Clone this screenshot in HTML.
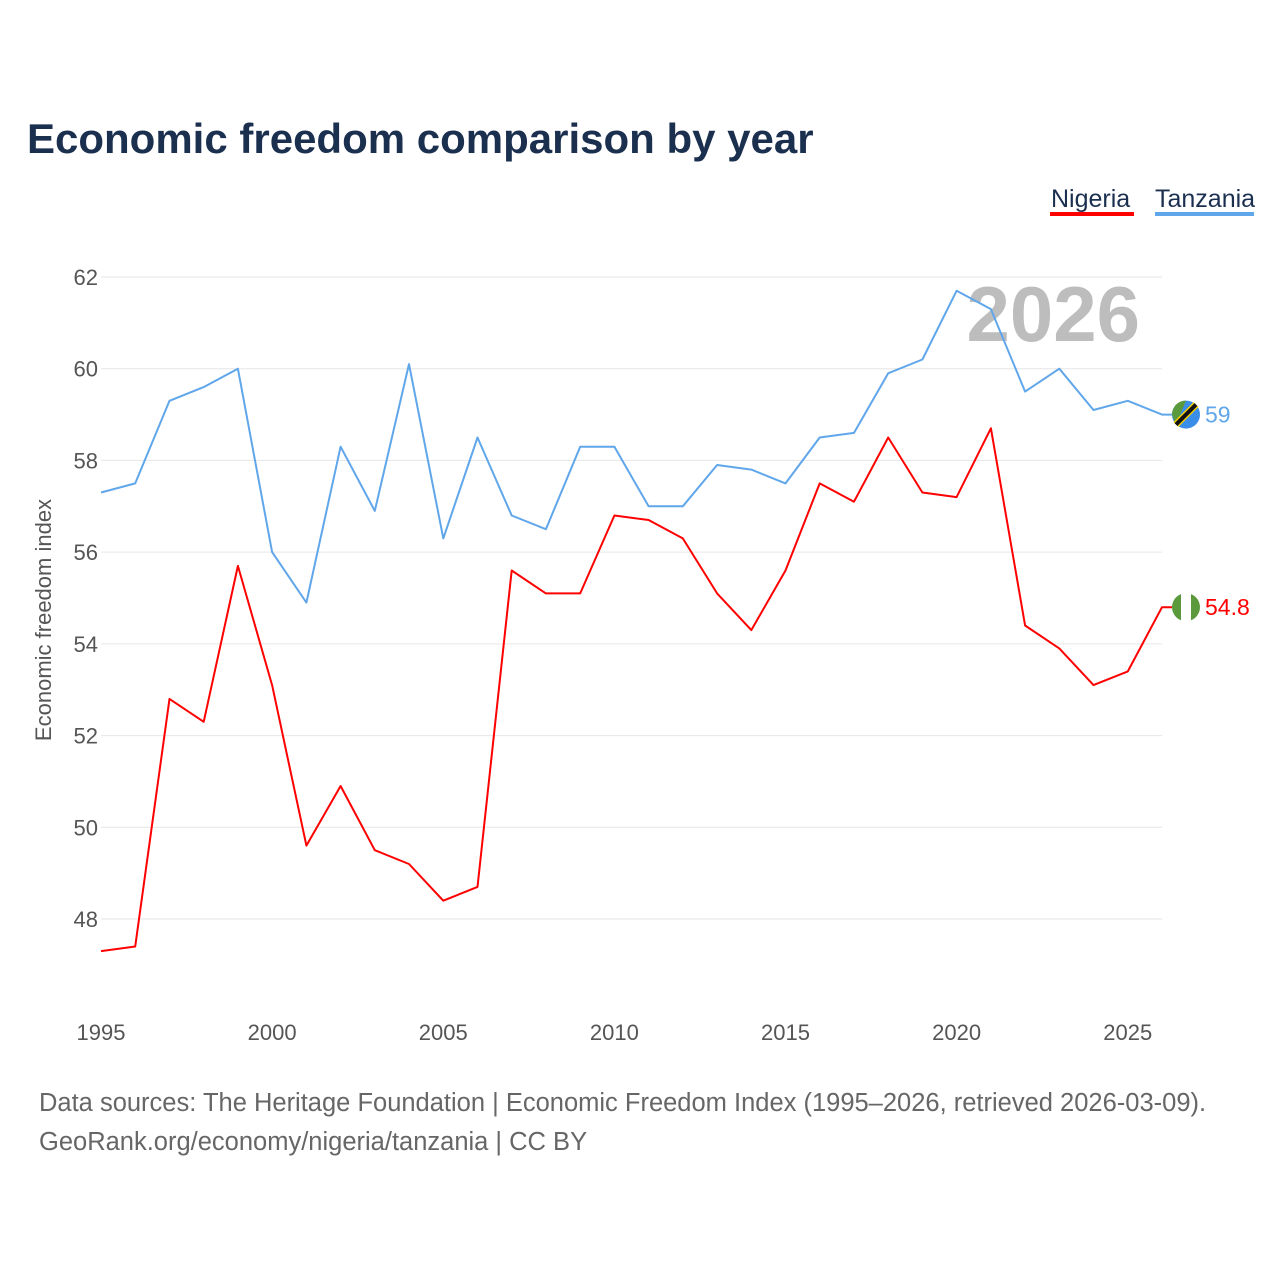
<!DOCTYPE html>
<html><head><meta charset="utf-8">
<style>
body{margin:0;background:#fff;font-family:"Liberation Sans",sans-serif;}
#wrap{position:relative;width:1280px;height:1280px;overflow:hidden;}
</style></head>
<body>
<div id="wrap">
<svg id="chart" width="1280" height="1280" xmlns="http://www.w3.org/2000/svg">
<defs><clipPath id="ngclip"><circle cx="1186" cy="0" r="14" id="ngc"/></clipPath></defs>
<text x="27" y="153" font-size="42" font-weight="bold" fill="#1b2f4f">Economic freedom comparison by year</text>
<g>
<text x="1051" y="207" font-size="25" fill="#1b2f4f">Nigeria</text>
<rect x="1050" y="212" width="84" height="4" fill="#ff0000"/>
</g>
<g>
<text x="1155" y="207" font-size="25" fill="#1b2f4f">Tanzania</text>
<rect x="1155" y="212" width="99" height="4" fill="#60a6ea"/>
</g>
<text x="1140" y="341" font-size="78" font-weight="bold" fill="#bdbdbd" text-anchor="end">2026</text>
<g id="grid"></g>
<g id="yticks"></g>
<g id="xticks"></g>
<text transform="translate(51,620) rotate(-90)" font-size="22" fill="#555" text-anchor="middle">Economic freedom index</text>
<g id="series"></g>
<text x="39" y="1111" font-size="25.5" fill="#666">Data sources: The Heritage Foundation | Economic Freedom Index (1995–2026, retrieved 2026-03-09).</text>
<text x="39" y="1150" font-size="25.5" fill="#666">GeoRank.org/economy/nigeria/tanzania | CC BY</text>
</svg>
</div>
<script>
const years=[1995,1996,1997,1998,1999,2000,2001,2002,2003,2004,2005,2006,2007,2008,2009,2010,2011,2012,2013,2014,2015,2016,2017,2018,2019,2020,2021,2022,2023,2024,2025,2026];
const tanzania=[57.3,57.5,59.3,59.6,60.0,56.0,54.9,58.3,56.9,60.1,56.3,58.5,56.8,56.5,58.3,58.3,57.0,57.0,57.9,57.8,57.5,58.5,58.6,59.9,60.2,61.7,61.3,59.5,60.0,59.1,59.3,59.0];
const nigeria=[47.3,47.4,52.8,52.3,55.7,53.1,49.6,50.9,49.5,49.2,48.4,48.7,55.6,55.1,55.1,56.8,56.7,56.3,55.1,54.3,55.6,57.5,57.1,58.5,57.3,57.2,58.7,54.4,53.9,53.1,53.4,54.8];
const yTicks=[48,50,52,54,56,58,60,62];
const xTicks=[1995,2000,2005,2010,2015,2020,2025];
const NS="http://www.w3.org/2000/svg";
function xs(v){return 101+(v-1995)*(1162-101)/31;}
function ys(v){return 277+(62-v)*(919-277)/14;}
function mk(tag,attrs,parent){const e=document.createElementNS(NS,tag);for(const k in attrs)e.setAttribute(k,attrs[k]);parent.appendChild(e);return e;}
const grid=document.getElementById('grid'),yt=document.getElementById('yticks'),xt=document.getElementById('xticks'),ser=document.getElementById('series');
yTicks.forEach(t=>{
  const l=mk('line',{x1:101,x2:1162,y1:ys(t),y2:ys(t),stroke:'#e6e6e6','stroke-width':1},grid);
  
  
  const tx=mk('text',{x:98,y:ys(t)+8,'font-size':22,fill:'#555','text-anchor':'end'},yt);
  tx.textContent=t;
  
  
});
xTicks.forEach(t=>{
  const tx=mk('text',{x:xs(t),y:1040,'font-size':22,fill:'#555','text-anchor':'middle'},xt);
  tx.textContent=t;
  
  
});
function line(vals,color,name){
  let d=vals.map((v,i)=>(i?'L':'M')+xs(years[i]).toFixed(1)+','+ys(v).toFixed(1)).join('');
  const lv=vals[vals.length-1],ly=ys(lv);
  d+='L1172,'+ly.toFixed(1);
  const p=mk('path',{d:d,fill:'none',stroke:color,'stroke-width':2,'stroke-linejoin':'round'},ser);
  
  
  const g=mk('g',{},ser);
  
  
  if(name==='nigeria'){
    document.getElementById('ngc').setAttribute('cy',ly);
    const fg=mk('g',{'clip-path':'url(#ngclip)'},g);
    mk('rect',{x:1172,y:ly-14,width:28,height:28,fill:'#fff'},fg);
    mk('rect',{x:1172,y:ly-14,width:9,height:28,fill:'#5a9a3c'},fg);
    mk('rect',{x:1191,y:ly-14,width:9,height:28,fill:'#5a9a3c'},fg);
  }else{
    mk('circle',{cx:1186,cy:ly,r:14,fill:'#3a8ee8'},g);
    mk('path',{d:`M${1172},${ly} A14,14 0 0 1 ${1186},${ly-14} L${1176},${ly+10} Z`,fill:'#5a9a3c'},g);
    mk('line',{x1:1176,y1:ly+10,x2:1196,y2:ly-10,stroke:'#f5d000','stroke-width':7},g);
    mk('line',{x1:1176,y1:ly+10,x2:1196,y2:ly-10,stroke:'#111','stroke-width':4},g);
  }
  const t=mk('text',{x:1205,y:ly+8,'font-size':23,fill:color},g);
  t.textContent=lv;
}
line(tanzania,'#60a6ea','tanzania');
line(nigeria,'#ff0000','nigeria');
</script>
</body></html>
